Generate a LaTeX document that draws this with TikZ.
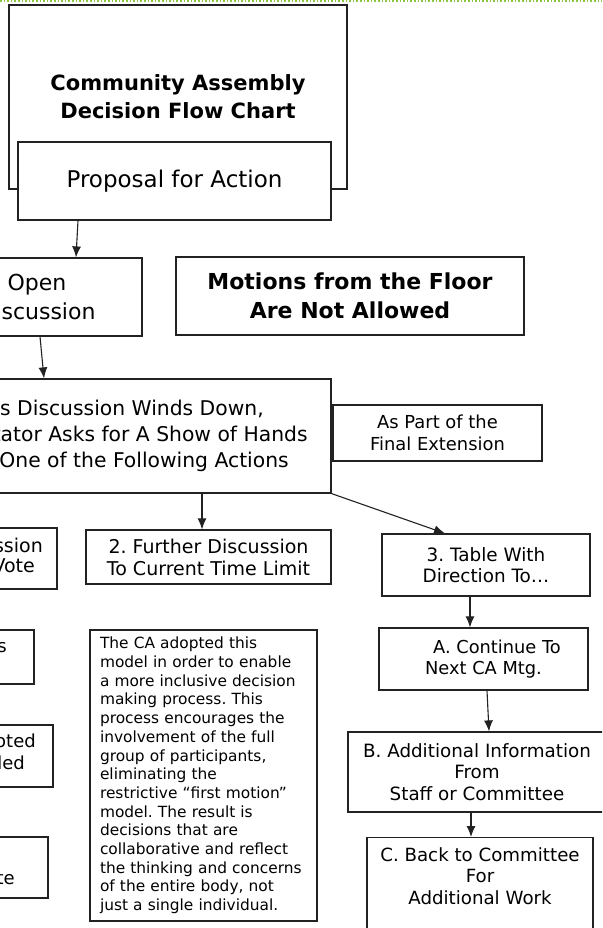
\documentclass[tikz,border=0pt]{standalone}
\usepackage{fontspec}
\setmainfont{DejaVu Sans}
\usetikzlibrary{arrows.meta}
\definecolor{dotgreen}{HTML}{8CC63F}
\definecolor{edge}{HTML}{222222}
\frenchspacing
\tikzset{
  box/.style={draw=edge, line width=1.2pt, fill=white, align=center, inner sep=0pt},
  frag/.style={inner sep=0pt, anchor=base east, font=\fontsize{18}{21}\selectfont},
  flow/.style={->, line width=1.1pt, draw=edge},
}

\begin{document}
\begin{tikzpicture}[x=1pt, y=-1pt, >={Latex[length=11pt,width=9pt]}]
  \useasboundingbox (0,0) rectangle (602,928);
  \fill[white] (0,0) rectangle (602,928);
  \clip (0,0) rectangle (602,928);
  \draw[dotgreen, dotted, line width=1.6pt] (0,0.8) -- (602,0.8);

  \node[box, minimum width=338, minimum height=184, font=\bfseries\fontsize{21}{28}\selectfont] (title) at (178,97) {Community Assembly\\Decision Flow Chart};
  \node[box, minimum width=313, minimum height=78, font=\fontsize{23}{28}\selectfont] (proposal) at (174.5,181) {Proposal for Action};
  \node[box, minimum width=210, minimum height=78, font=\fontsize{22}{29}\selectfont] (open) at (37,297) {Open\\Discussion};
  \node[box, line width=2.8pt, minimum width=348, minimum height=78, font=\bfseries\fontsize{22}{29}\selectfont] (nomotion) at (350,296) {Motions from the Floor\\Are Not Allowed};
  \node[box, minimum width=412, minimum height=114, font=\fontsize{20.3}{26}\selectfont] (winddown) at (125,436) {As Discussion Winds Down,\\Facilitator Asks for A Show of Hands\\For One of the Following Actions};
  \node[box, minimum width=209, minimum height=56, font=\fontsize{17.9}{22}\selectfont] (extension) at (437.5,433) {As Part of the\\Final Extension};

  % the three options
  \node[box, minimum width=157, minimum height=61] (optone) at (-21.5,558.5) {};
  \node[frag, font=\fontsize{19}{22}\selectfont] (optonea) at (43,552) {ssion};
  \node[frag, font=\fontsize{19}{22}\selectfont] (optoneb) at (35,572) {Vote};
  \node[box, minimum width=245, minimum height=54, font=\fontsize{19}{22}\selectfont] (opttwo) at (208.5,557) {2. Further Discussion\\To Current Time Limit};
  \node[box, minimum width=208, minimum height=62, font=\fontsize{18.4}{20.5}\selectfont] (optthree) at (486,565) {3. Table With\\Direction To\dots};

  % left column
  \node[box, minimum width=144, minimum height=54] (resulta) at (-38,657) {};
  \node[frag] (resultatext) at (7,652) {s};
  \node[box, minimum width=163, minimum height=62] (resultb) at (-28.5,756) {};
  \node[frag] (resultbtexta) at (36,747) {oted};
  \node[frag] (resultbtextb) at (25,769) {led};
  \node[box, minimum width=148, minimum height=61] (resultc) at (-26,867.5) {};
  \node[frag] (resultctext) at (15,884) {te};

  \node[box, minimum width=227, minimum height=291, text width=207pt, inner xsep=10pt, align=left, font=\fontsize{15.4}{18.7}\selectfont] (reason) at (203.5,775.5) {The CA adopted this\\
model in order to enable\\
a more inclusive decision\\
making process. This\\
process encourages the\\
involvement of the full\\
group of participants,\\
eliminating the\\
restrictive “first motion”\\
model. The result is\\
decisions that are\\
collaborative and reflect\\
the thinking and concerns\\
of the entire body, not\\
just a single individual.};

  % right column
  \node[box, minimum width=209, minimum height=62, font=\fontsize{17.8}{21}\selectfont] (nextmtg) at (483.5,659) {\hspace*{27pt}A. Continue To\\Next CA Mtg.};
  \node[box, minimum width=258, minimum height=80, font=\fontsize{18.3}{21.5}\selectfont] (moreinfo) at (477,772) {B. Additional Information\\From\\Staff or Committee};
  \node[box, minimum width=226, inner ysep=10pt, text depth=40pt, anchor=north, font=\fontsize{18.2}{21.5}\selectfont] (backcttee) at (480,837) {C. Back to Committee\\For\\Additional Work};

  \draw[flow] ([xshift=-96.5pt]proposal.south) -- ([xshift=39pt]open.north);
  \draw[flow] ([xshift=3pt]open.south) -- ([xshift=-81pt]winddown.north);
  \draw[flow] ([xshift=77pt]winddown.south) -- ([xshift=-6.5pt]opttwo.north);
  \draw[flow] (winddown.south east) -- ([xshift=-41pt]optthree.north);
  \draw[flow] ([xshift=-16pt]optthree.south) -- ([xshift=-13.5pt]nextmtg.north);
  \draw[flow] ([xshift=3.5pt]nextmtg.south) -- ([xshift=12pt]moreinfo.north);
  \draw[flow] ([xshift=-6pt]moreinfo.south) -- ([xshift=-9pt]backcttee.north);
\end{tikzpicture}
\end{document}
